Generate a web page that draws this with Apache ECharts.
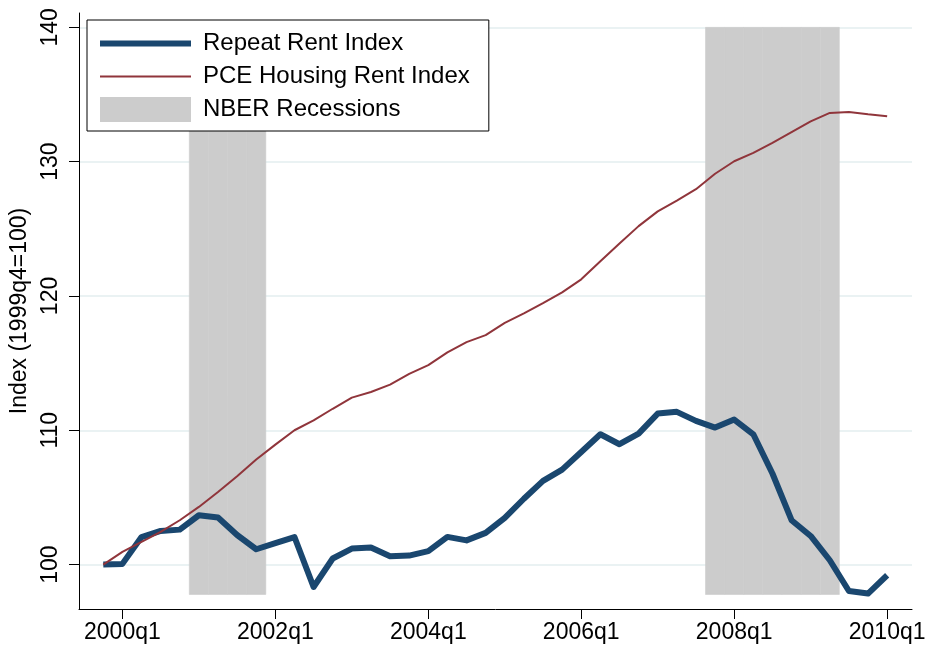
<!DOCTYPE html>
<html>
<head>
<meta charset="utf-8">
<script src="https://cdn.jsdelivr.net/npm/echarts@6/dist/echarts.min.js"></script>
<style>
html,body{margin:0;padding:0;background:#fff;}
#chart{width:929px;height:651px;}
</style>
</head>
<body>
<div id="chart"></div>
<script>
const quarters = ['1999q4',
  '2000q1','2000q2','2000q3','2000q4','2001q1','2001q2','2001q3','2001q4',
  '2002q1','2002q2','2002q3','2002q4','2003q1','2003q2','2003q3','2003q4',
  '2004q1','2004q2','2004q3','2004q4','2005q1','2005q2','2005q3','2005q4',
  '2006q1','2006q2','2006q3','2006q4','2007q1','2007q2','2007q3','2007q4',
  '2008q1','2008q2','2008q3','2008q4','2009q1','2009q2','2009q3','2009q4',
  '2010q1'];
const repeatRent = [100.0,
  100.05,102.05,102.5,102.6,103.67,103.5,102.2,101.14,
  101.6,102.05,98.33,100.45,101.19,101.27,100.62,100.67,
  101.0,102.06,101.8,102.36,103.47,104.9,106.23,107.07,
  108.38,109.7,108.96,109.75,111.24,111.37,110.7,110.2,
  110.8,109.7,106.78,103.3,102.13,100.32,98.03,97.84,
  99.2];
const pceRent = [100.0,
  100.94,101.68,102.43,103.3,104.29,105.4,106.57,107.82,
  108.93,110.0,110.74,111.6,112.43,112.85,113.4,114.2,
  114.85,115.8,116.56,117.08,118.0,118.7,119.46,120.27,
  121.24,122.58,123.9,125.2,126.3,127.1,127.95,129.1,
  130.03,130.65,131.4,132.2,133.0,133.63,133.7,133.53,
  133.38];
const recessionQuarters = ['2001q1','2001q2','2001q3','2001q4',
  '2007q4','2008q1','2008q2','2008q3','2008q4','2009q1','2009q2'];
const recessionRange = [97.77, 140];
const xTickLabels = ['2000q1','2002q1','2004q1','2006q1','2008q1','2010q1'];
const yTicks = [100, 110, 120, 130, 140];

const FONT = "'Liberation Sans', Arial, Helvetica, sans-serif";
const qIndex = q => quarters.indexOf(q);

const repeatData = quarters.map((q, i) => [i, repeatRent[i]]);
const pceData = quarters.map((q, i) => [i, pceRent[i]]);
const recData = recessionQuarters.map(q => [qIndex(q), recessionRange[0], recessionRange[1]]);
const xTickValues = xTickLabels.map(qIndex);

const chart = echarts.init(document.getElementById('chart'), null, {renderer: 'canvas'});
chart.setOption({
  backgroundColor: '#ffffff',
  animation: false,
  textStyle: {fontFamily: FONT},
  grid: {left: 79, right: 17, top: 13, bottom: 42, containLabel: false, outerBoundsMode: 'none'},
  legend: {
    orient: 'vertical',
    left: 87, top: 20,
    padding: [11, 19, 9, 10],
    itemWidth: 91, itemHeight: 25, itemGap: 8,
    borderColor: '#000000', borderWidth: 1, backgroundColor: '#ffffff',
    borderRadius: 0,
    textStyle: {fontFamily: FONT, fontSize: 24, color: '#000000', lineHeight: 25, padding: [0, 0, 0, 7]},
    data: [
      {name: 'Repeat Rent Index', itemStyle: {opacity: 0}, lineStyle: {width: 6, color: '#1a476f'}},
      {name: 'PCE Housing Rent Index', itemStyle: {opacity: 0}, lineStyle: {width: 2, color: '#90353b'}},
      {name: 'NBER Recessions', icon: 'rect', itemStyle: {color: '#cccccc'}}
    ]
  },
  xAxis: {
    type: 'value',
    min: -1.27, max: 42.3,
    axisLine: {show: true, onZero: false, lineStyle: {color: '#000000', width: 1}},
    axisTick: {show: true, length: 10, lineStyle: {color: '#000000'}, customValues: xTickValues},
    axisLabel: {
      show: true, fontSize: 23, color: '#000000', fontFamily: FONT, margin: 12,
      customValues: xTickValues,
      formatter: v => quarters[Math.round(v)] || ''
    },
    splitLine: {show: false}
  },
  yAxis: {
    type: 'value',
    min: 96.69, max: 141.07,
    name: 'Index (1999q4=100)',
    nameLocation: 'middle', nameRotate: 90, nameGap: 43,
    nameTextStyle: {fontSize: 23, color: '#000000', fontFamily: FONT},
    axisLine: {show: true, onZero: false, lineStyle: {color: '#000000', width: 1}},
    axisTick: {show: true, length: 10, lineStyle: {color: '#000000'}, customValues: yTicks},
    axisLabel: {
      show: true, rotate: 90, fontSize: 23, color: '#000000', fontFamily: FONT, margin: 17,
      customValues: yTicks
    },
    splitLine: {show: true, lineStyle: {color: '#eaf2f3', width: 2}}
  },
  series: [
    {
      name: 'NBER Recessions',
      type: 'custom',
      z: 1,
      itemStyle: {color: '#cccccc'},
      encode: {x: 0, y: [1, 2]},
      renderItem: function (params, api) {
        const x = api.value(0);
        const lo = api.coord([x - 0.5, api.value(1)]);
        const hi = api.coord([x + 0.5, api.value(2)]);
        return {
          type: 'rect',
          shape: {x: lo[0], y: hi[1], width: hi[0] - lo[0], height: lo[1] - hi[1]},
          style: {fill: '#cccccc', stroke: '#cccccc', lineWidth: 0.6}
        };
      },
      data: recData
    },
    {
      name: 'Repeat Rent Index',
      type: 'line',
      z: 3,
      symbol: 'none',
      color: '#1a476f',
      lineStyle: {color: '#1a476f', width: 6, join: 'round'},
      data: repeatData
    },
    {
      name: 'PCE Housing Rent Index',
      type: 'line',
      z: 4,
      symbol: 'none',
      color: '#90353b',
      lineStyle: {color: '#90353b', width: 2},
      data: pceData
    }
  ]
});
</script>
</body>
</html>
